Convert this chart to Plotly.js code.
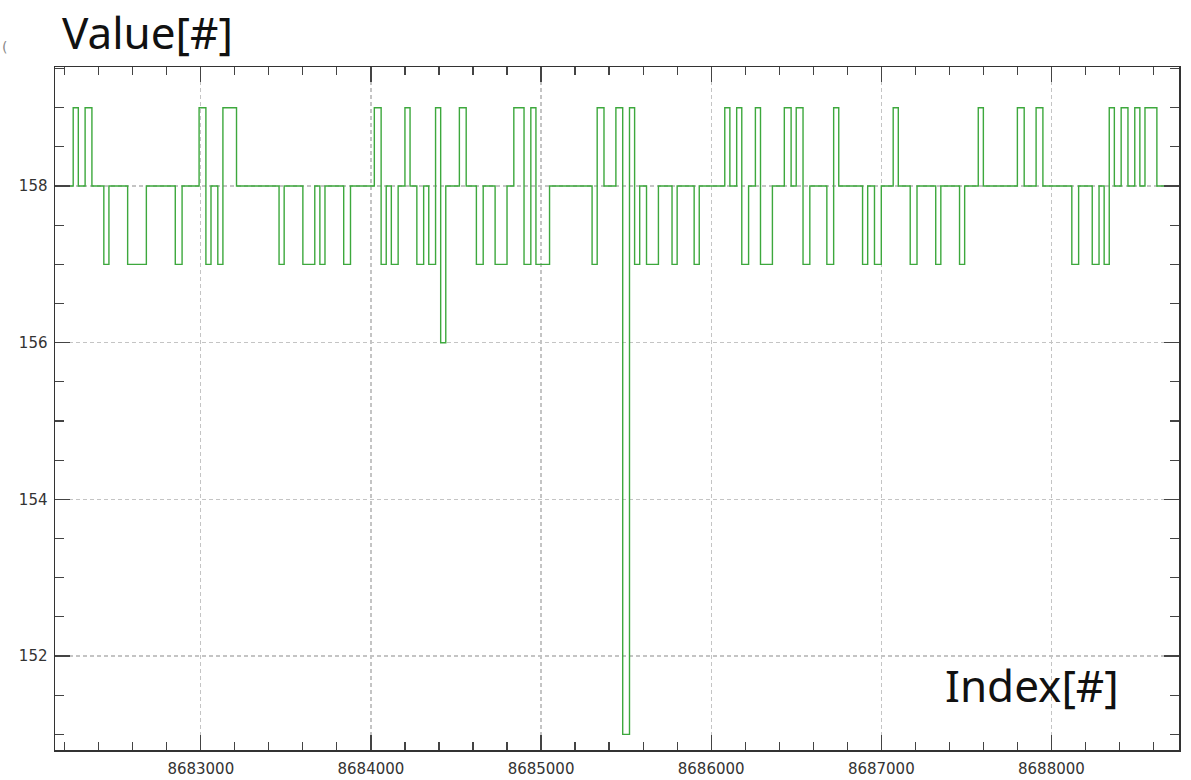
<!DOCTYPE html>
<html>
<head>
<meta charset="utf-8">
<script src="https://cdn.plot.ly/plotly-3.0.1.min.js"></script>
<style>html,body{margin:0;padding:0;background:#fff;}#chart{width:1191px;height:780px;}</style>
</head>
<body>
<div id="chart"></div>
<script>
// Step-change points: index at which the value changes, and the new value
const indexValues = [
  8682160, 8682250, 8682280, 8682320, 8682360, 8682430, 8682460, 8682570, 8682680, 8682850,
  8682890, 8682990, 8683030, 8683060, 8683100, 8683130, 8683210, 8683460, 8683490, 8683600,
  8683670, 8683700, 8683730, 8683840, 8683880, 8684020, 8684060, 8684090, 8684120, 8684160,
  8684200, 8684230, 8684270, 8684310, 8684340, 8684380, 8684410, 8684440, 8684520, 8684560,
  8684620, 8684660, 8684730, 8684800, 8684840, 8684900, 8684940, 8684970, 8685050, 8685300,
  8685330, 8685370, 8685440, 8685480, 8685520, 8685550, 8685580, 8685620, 8685690, 8685770,
  8685800, 8685900, 8685930, 8686080, 8686110, 8686150, 8686180, 8686220, 8686260, 8686290,
  8686360, 8686430, 8686470, 8686500, 8686540, 8686580, 8686680, 8686720, 8686750, 8686890,
  8686920, 8686960, 8687000, 8687070, 8687100, 8687170, 8687210, 8687320, 8687350, 8687460,
  8687490, 8687570, 8687600, 8687800, 8687840, 8687910, 8687950, 8688120, 8688160, 8688240,
  8688280, 8688310, 8688340, 8688370, 8688410, 8688450, 8688490, 8688520, 8688550, 8688620,
  8688745
];
const sampleValues = [
  158, 159, 158, 159, 158, 157, 158, 157, 158, 157,
  158, 159, 157, 158, 157, 159, 158, 157, 158, 157,
  158, 157, 158, 157, 158, 159, 157, 158, 157, 158,
  159, 158, 157, 158, 157, 159, 156, 158, 159, 158,
  157, 158, 157, 158, 159, 157, 159, 157, 158, 157,
  159, 158, 159, 151, 159, 157, 158, 157, 158, 157,
  158, 157, 158, 159, 158, 159, 157, 158, 159, 157,
  158, 159, 158, 159, 157, 158, 157, 159, 158, 157,
  158, 157, 158, 159, 158, 157, 158, 157, 158, 157,
  158, 159, 158, 159, 158, 159, 158, 157, 158, 157,
  158, 157, 159, 158, 159, 158, 159, 158, 159, 158,
  158
];
const xTickValues = [8683000, 8684000, 8685000, 8686000, 8687000, 8688000];
const xTickLabels = ['8683000', '8684000', '8685000', '8686000', '8687000', '8688000'];
const yTickValues = [152, 154, 156, 158];
const yTickLabels = ['152', '154', '156', '158'];
const yTitle = 'Value[#]';
const xTitle = 'Index[#]';

const trace = {
  x: indexValues,
  y: sampleValues,
  type: 'scatter',
  mode: 'lines',
  line: {shape: 'hv', color: '#3da83d', width: 1.4},
  hoverinfo: 'x+y'
};

const axisCommon = {
  showline: true,
  linecolor: '#333',
  linewidth: 1.5,
  mirror: 'ticks',
  ticks: 'inside',
  ticklen: 15,
  tickwidth: 1.3,
  tickcolor: '#444',
  showgrid: true,
  gridcolor: '#c4c4c4',
  griddash: '4px,3px',
  gridwidth: 1.2,
  zeroline: false,
  tickfont: {family: 'DejaVu Sans', size: 15, color: '#333'}
};

const layout = {
  width: 1191,
  height: 780,
  margin: {l: 55, r: 12, t: 67, b: 30},
  paper_bgcolor: '#fff',
  plot_bgcolor: '#fff',
  showlegend: false,
  xaxis: Object.assign({}, axisCommon, {
    range: [8682143, 8688750],
    tickmode: 'array',
    tickvals: xTickValues,
    ticktext: xTickLabels,
    ticklabelstandoff: 4,
    minor: {dtick: 200, tick0: 8683000, ticks: 'inside', ticklen: 8, tickwidth: 1.2, tickcolor: '#444', showgrid: false}
  }),
  yaxis: Object.assign({}, axisCommon, {
    range: [150.80, 159.52],
    tickmode: 'array',
    tickvals: yTickValues,
    ticktext: yTickLabels,
    ticklabelstandoff: 3,
    minor: {dtick: 0.5, tick0: 150, ticks: 'inside', ticklen: 9, tickwidth: 1.2, tickcolor: '#444', showgrid: false}
  }),
  annotations: [
    {text: yTitle, xref: 'paper', yref: 'paper', x: 0.0, y: 1.0, xshift: 5, yshift: 3,
     xanchor: 'left', yanchor: 'bottom', showarrow: false,
     font: {family: 'Noto Sans', size: 44, color: '#111'}},
    {text: xTitle, xref: 'paper', yref: 'paper', x: 1.0, y: 0.0, xshift: -58, yshift: 33,
     xanchor: 'right', yanchor: 'bottom', showarrow: false,
     font: {family: 'Noto Sans', size: 44, color: '#111'}},
    {text: '(', xref: 'paper', yref: 'paper', x: 0, y: 1, xshift: -55, yshift: 10,
     xanchor: 'left', yanchor: 'bottom', showarrow: false,
     font: {family: 'DejaVu Sans', size: 14, color: '#888'}}
  ]
};

Plotly.newPlot('chart', [trace], layout, {displayModeBar: false, staticPlot: true});
</script>
</body>
</html>
